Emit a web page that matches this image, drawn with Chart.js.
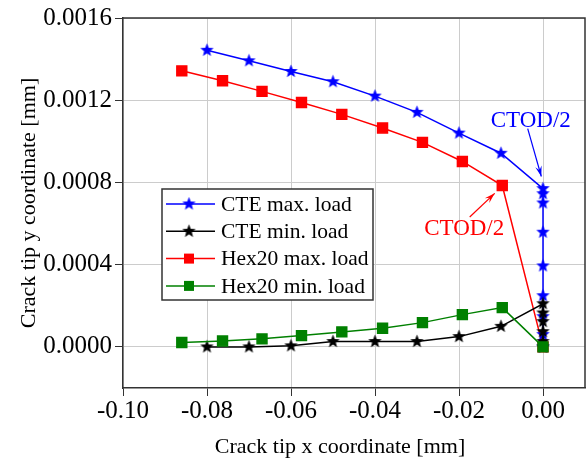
<!DOCTYPE html>
<html>
<head>
<meta charset="utf-8">
<script src="https://cdn.jsdelivr.net/npm/chart.js@4/dist/chart.umd.min.js"></script>
<style>
  body { margin: 0; background: #fff; }
  canvas { display: block; }
</style>
</head>
<body>
<canvas id="chart" width="587" height="461"></canvas>
<script>
// Data
var cteMaxX = [-0.08, -0.07, -0.06, -0.05, -0.04, -0.03, -0.02, -0.01, 0, 0, 0, 0, 0, 0, 0, 0, 0];
var cteMaxY = [0.001443, 0.001392, 0.00134, 0.00129, 0.00122, 0.001141, 0.00104, 0.000942,
               0.00077, 0.000745, 0.0007, 0.000558, 0.000394, 0.000249, 0.000147, 0.00006, 0.0];

var cteMinX = [-0.08, -0.07, -0.06, -0.05, -0.04, -0.03, -0.02, -0.01, 0, 0, 0, 0, 0, 0];
var cteMinY = [0.0, 0.0, 0.000005, 0.000026, 0.000026, 0.000026, 0.00005, 0.0001,
               0.00021, 0.000165, 0.000123, 0.000074, 0.000026, 0.0];

var hexMaxX = [-0.086, -0.0763, -0.0669, -0.0575, -0.0479, -0.0382, -0.0287, -0.0192, -0.0097, 0];
var hexMaxY = [0.001343, 0.001295, 0.001243, 0.001189, 0.001131, 0.001065, 0.000995, 0.000902, 0.000785, 0.0];

var hexMinX = [-0.086, -0.0763, -0.0669, -0.0575, -0.0479, -0.0382, -0.0287, -0.0192, -0.0097, 0];
var hexMinY = [0.000021, 0.000029, 0.000039, 0.000055, 0.000073, 0.000091, 0.000118, 0.000157, 0.000191, 0.0];

var xTicks = [-0.10, -0.08, -0.06, -0.04, -0.02, 0.00];
var yTicks = [0.0000, 0.0004, 0.0008, 0.0012, 0.0016];

var seriesNames = ["CTE max. load", "CTE min. load", "Hex20 max. load", "Hex20 min. load"];
var xTitle = "Crack tip x coordinate [mm]";
var yTitle = "Crack tip y coordinate [mm]";

// Annotations (data coords)
var notes = [
    { text: "CTOD/2", color: "#0000ff", tx: -0.0029, ty: 0.0011, from: [-0.00364, 0.001062], to: [-0.0004, 0.000829] },
    { text: "CTOD/2", color: "#ff0000", tx: -0.01876, ty: 0.000572, from: [-0.01745, 0.000632], to: [-0.0115, 0.000747] }
];

var FONT = "'Liberation Serif', 'Times New Roman', serif";

// Utils
var zip = function(xs, ys){
    return xs.map(function(x, i){ return { x: x, y: ys[i] }; });
};

// Filled five point star as point image
var makeStar = function(color){
    var c = document.createElement("canvas");
    c.width = 15; c.height = 15;
    var ctx = c.getContext("2d");
    var R = 7, r = 3;
    ctx.beginPath();
    for (var k = 0; k < 10; k++) {
        var rad = (k % 2 === 0) ? R : r;
        var a = -Math.PI / 2 + k * Math.PI / 5;
        var px = 7.5 + rad * Math.cos(a), py = 7.5 + rad * Math.sin(a);
        if (k === 0) ctx.moveTo(px, py); else ctx.lineTo(px, py);
    }
    ctx.closePath();
    ctx.fillStyle = color;
    ctx.fill();
    return c;
};

var blueStar = makeStar("#0000ff");
var blackStar = makeStar("#000000");

var datasets = [
    { label: seriesNames[0], data: zip(cteMaxX, cteMaxY), borderColor: "#0000ff", backgroundColor: "#0000ff", pointStyle: blueStar, order: 1 },
    { label: seriesNames[1], data: zip(cteMinX, cteMinY), borderColor: "#000000", backgroundColor: "#000000", pointStyle: blackStar, order: 0 },
    { label: seriesNames[2], data: zip(hexMaxX, hexMaxY), borderColor: "#ff0000", backgroundColor: "#ff0000", pointStyle: "rect", pointRadius: 7, order: 3 },
    { label: seriesNames[3], data: zip(hexMinX, hexMinY), borderColor: "#008000", backgroundColor: "#008000", pointStyle: "rect", pointRadius: 7, order: -1 }
];
datasets.forEach(function(d){
    d.borderWidth = 1.5;
    d.showLine = true;
    d.fill = false;
    d.tension = 0;
    if (!d.pointRadius) d.pointRadius = 7;
});

// Frame, legend box, x title and annotations
var extrasPlugin = {
    id: "extras",
    afterDatasetsDraw: function(chart){
        var ctx = chart.ctx, a = chart.chartArea;
        var xs = chart.scales.x, ys = chart.scales.y;
        ctx.save();

        // frame top + right
        ctx.strokeStyle = "#333";
        ctx.lineWidth = 1.5;
        ctx.beginPath();
        ctx.moveTo(a.left, a.top);
        ctx.lineTo(a.right, a.top);
        ctx.lineTo(a.right, a.bottom);
        ctx.stroke();

        // x title
        ctx.fillStyle = "#000";
        ctx.font = "22px " + FONT;
        ctx.textAlign = "center";
        ctx.textBaseline = "middle";
        ctx.fillText(xTitle, 340, 447);

        // annotations
        ctx.font = "23px " + FONT;
        notes.forEach(function(n){
            ctx.fillStyle = n.color;
            ctx.strokeStyle = n.color;
            ctx.fillText(n.text, xs.getPixelForValue(n.tx), ys.getPixelForValue(n.ty));
            var x1 = xs.getPixelForValue(n.from[0]), y1 = ys.getPixelForValue(n.from[1]);
            var x2 = xs.getPixelForValue(n.to[0]), y2 = ys.getPixelForValue(n.to[1]);
            ctx.lineWidth = 1.2;
            ctx.beginPath();
            ctx.moveTo(x1, y1);
            ctx.lineTo(x2, y2);
            ctx.stroke();
            var ang = Math.atan2(y2 - y1, x2 - x1);
            var hl = 11, hw = 0.3;
            ctx.beginPath();
            ctx.moveTo(x2, y2);
            ctx.lineTo(x2 - hl * Math.cos(ang - hw), y2 - hl * Math.sin(ang - hw));
            ctx.lineTo(x2 - hl * 0.6 * Math.cos(ang), y2 - hl * 0.6 * Math.sin(ang));
            ctx.lineTo(x2 - hl * Math.cos(ang + hw), y2 - hl * Math.sin(ang + hw));
            ctx.closePath();
            ctx.fill();
        });

        // legend
        var lx = 162, ly = 189, lw = 211, lh = 111;
        ctx.fillStyle = "#fff";
        ctx.fillRect(lx, ly, lw, lh);
        ctx.strokeStyle = "#333";
        ctx.lineWidth = 1.5;
        ctx.strokeRect(lx, ly, lw, lh);
        ctx.textAlign = "left";
        ctx.font = "21.5px " + FONT;
        chart.data.datasets.forEach(function(d, i){
            var cy = ly + 15 + i * 27.3;
            ctx.strokeStyle = d.borderColor;
            ctx.lineWidth = 1.5;
            ctx.beginPath();
            ctx.moveTo(lx + 4, cy);
            ctx.lineTo(lx + 53, cy);
            ctx.stroke();
            if (d.pointStyle === "rect") {
                ctx.fillStyle = d.backgroundColor;
                ctx.fillRect(lx + 27 - 5, cy - 5, 10, 10);
            } else {
                ctx.drawImage(d.pointStyle, lx + 27 - 7.5, cy - 7.5);
            }
            ctx.fillStyle = "#000";
            ctx.fillText(d.label, lx + 59, cy + 1);
        });
        ctx.restore();
    }
};

var chart = new Chart(document.getElementById("chart"), {
    type: "scatter",
    data: { datasets: datasets },
    options: {
        responsive: false,
        devicePixelRatio: 1,
        animation: false,
        layout: { autoPadding: false, padding: { top: 17, right: 2, left: 16, bottom: 0 } },
        plugins: { legend: { display: false }, tooltip: { enabled: false } },
        scales: {
            x: {
                type: "linear",
                min: -0.1,
                max: 0.01,
                afterBuildTicks: function(axis){ axis.ticks = xTicks.map(function(v){ return { value: v }; }); },
                afterFit: function(axis){ axis.height = 73; axis.paddingLeft = 0; axis.paddingRight = 0; },
                ticks: {
                    color: "#000",
                    font: { family: FONT, size: 25 },
                    padding: 0,
                    maxRotation: 0,
                    callback: function(v){ return v.toFixed(2); }
                },
                grid: { color: "#cccccc", lineWidth: 1, tickColor: "#333", tickLength: 8 },
                border: { color: "#333", width: 1.5 },
                title: { display: false }
            },
            y: {
                type: "linear",
                min: -0.0002,
                max: 0.0016,
                afterBuildTicks: function(axis){ axis.ticks = yTicks.map(function(v){ return { value: v }; }); },
                afterFit: function(axis){ axis.width = 107; },
                ticks: {
                    color: "#000",
                    font: { family: FONT, size: 25 },
                    padding: 3,
                    callback: function(v){ return v.toFixed(4); }
                },
                grid: { color: "#cccccc", lineWidth: 1, tickColor: "#333", tickLength: 8 },
                border: { color: "#333", width: 1.5 },
                title: { display: true, text: yTitle, color: "#000", font: { family: FONT, size: 22 }, padding: { top: 0, bottom: 0 } }
            }
        }
    },
    plugins: [extrasPlugin]
});
</script>
</body>
</html>
